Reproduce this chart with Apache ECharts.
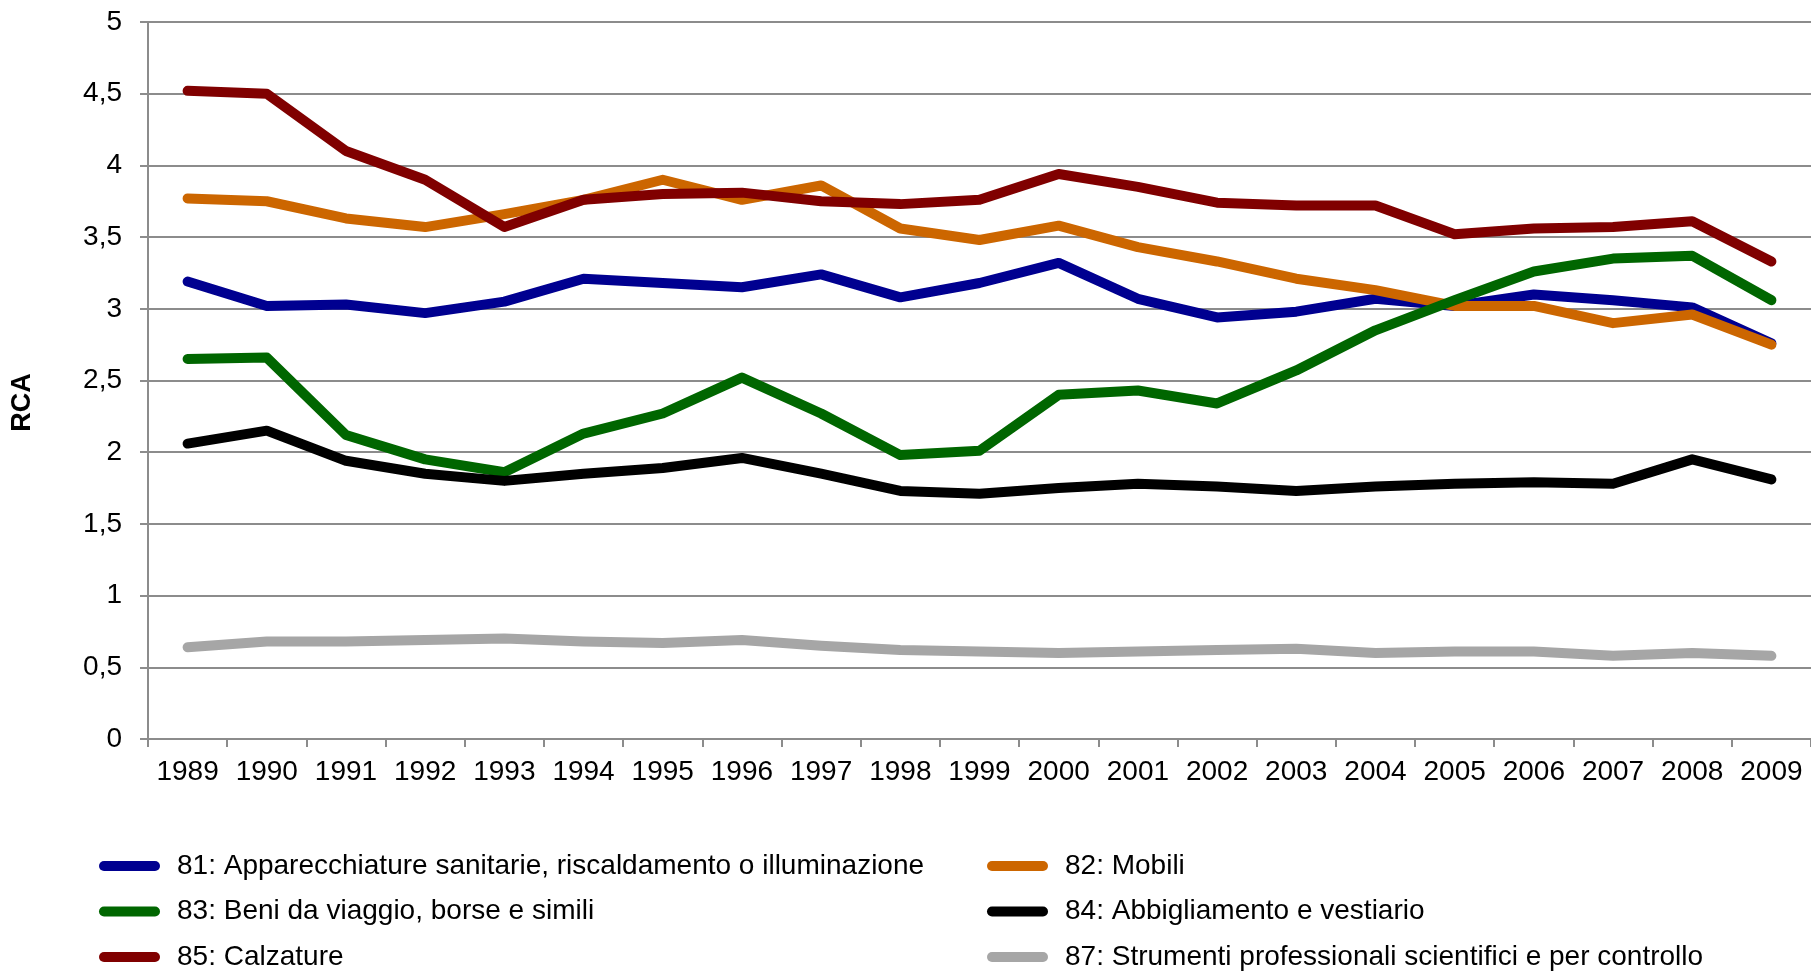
<!DOCTYPE html>
<html>
<head>
<meta charset="utf-8">
<style>
html,body{margin:0;padding:0;background:#fff;}
#chart{width:1811px;height:974px;}
</style>
<script src="https://cdn.jsdelivr.net/npm/echarts@6/dist/echarts.min.js"></script>
</head>
<body>
<div id="chart"></div>
<script>
const years = ['1989','1990','1991','1992','1993','1994','1995','1996','1997','1998','1999','2000','2001','2002','2003','2004','2005','2006','2007','2008','2009'];
const s81 = [3.19,3.02,3.03,2.97,3.05,3.21,3.18,3.15,3.24,3.08,3.18,3.32,3.07,2.94,2.98,3.07,3.02,3.10,3.06,3.01,2.76];
const s82 = [3.77,3.75,3.63,3.57,3.66,3.76,3.90,3.76,3.86,3.56,3.48,3.58,3.43,3.33,3.21,3.13,3.02,3.02,2.90,2.96,2.75];
const s83 = [2.65,2.66,2.12,1.95,1.86,2.13,2.27,2.52,2.27,1.98,2.01,2.40,2.43,2.34,2.57,2.85,3.06,3.26,3.35,3.37,3.06];
const s84 = [2.06,2.15,1.94,1.85,1.80,1.85,1.89,1.96,1.85,1.73,1.71,1.75,1.78,1.76,1.73,1.76,1.78,1.79,1.78,1.95,1.81];
const s85 = [4.52,4.50,4.10,3.90,3.57,3.76,3.80,3.81,3.75,3.73,3.76,3.94,3.85,3.74,3.72,3.72,3.52,3.56,3.57,3.61,3.33];
const s87 = [0.64,0.68,0.68,0.69,0.70,0.68,0.67,0.69,0.65,0.62,0.61,0.60,0.61,0.62,0.63,0.60,0.61,0.61,0.58,0.60,0.58];
const names = {
  s81: '81: Apparecchiature sanitarie, riscaldamento o illuminazione',
  s82: '82: Mobili',
  s83: '83: Beni da viaggio, borse e simili',
  s84: '84: Abbigliamento e vestiario',
  s85: '85: Calzature',
  s87: '87: Strumenti professionali scientifici e per controllo'
};
const colors = {s81:'#000090', s82:'#CC6600', s83:'#006600', s84:'#000000', s85:'#800000', s87:'#A6A6A6'};
const FONT = '"Liberation Sans", Arial, sans-serif';
const stadium = 'path://M5,0 L56,0 A5,5 0 0 1 56,10 L5,10 A5,5 0 0 1 5,0 Z';

function mk(key, data){
  return {
    name: names[key], type: 'line', data: data, symbol: 'none', showSymbol: false,
    lineStyle: {width: 10, color: colors[key], cap: 'round', join: 'round'},
    itemStyle: {color: colors[key]},
    emphasis: {disabled: true}, animation: false
  };
}
const legendCommon = {
  orient: 'vertical', icon: stadium, itemWidth: 61, itemHeight: 10, itemGap: 15.5,
  padding: 0, height: 200,
  textStyle: {fontFamily: FONT, fontSize: 28, color: '#000', lineHeight: 30, padding: [0,0,0,12]},
  selectedMode: false
};
const chart = echarts.init(document.getElementById('chart'), null, {renderer: 'canvas'});
chart.setOption({
  animation: false,
  backgroundColor: '#fff',
  textStyle: {fontFamily: FONT},
  grid: {left: 148, right: 0, top: 22, bottom: 235},
  legend: [
    Object.assign({}, legendCommon, {left: 99, top: 851, data: [names.s81, names.s83, names.s85]}),
    Object.assign({}, legendCommon, {left: 987, top: 851, data: [names.s82, names.s84, names.s87]})
  ],
  xAxis: {
    type: 'category', data: years, boundaryGap: true,
    axisLine: {lineStyle: {color: '#8c8c8c', width: 2}},
    axisTick: {show: true, length: 8, lineStyle: {color: '#8c8c8c', width: 2}},
    axisLabel: {fontFamily: FONT, fontSize: 28, color: '#000', margin: 19, interval: 0}
  },
  yAxis: {
    type: 'value', min: 0, max: 5, interval: 0.5,
    name: 'RCA', nameLocation: 'middle', nameGap: 112,
    nameTextStyle: {fontFamily: FONT, fontSize: 27, fontWeight: 'bold', color: '#000', padding: [0, 44, 0, 0]},
    axisLine: {show: true, lineStyle: {color: '#8c8c8c', width: 2}},
    axisTick: {show: true, length: 8, lineStyle: {color: '#8c8c8c', width: 2}},
    splitLine: {show: true, lineStyle: {color: '#8c8c8c', width: 2}},
    axisLabel: {fontFamily: FONT, fontSize: 28, color: '#000', margin: 26,
      formatter: v => String(v).replace('.', ',')}
  },
  series: [mk('s81', s81), mk('s82', s82), mk('s83', s83), mk('s84', s84), mk('s85', s85), mk('s87', s87)]
});
</script>
</body>
</html>
